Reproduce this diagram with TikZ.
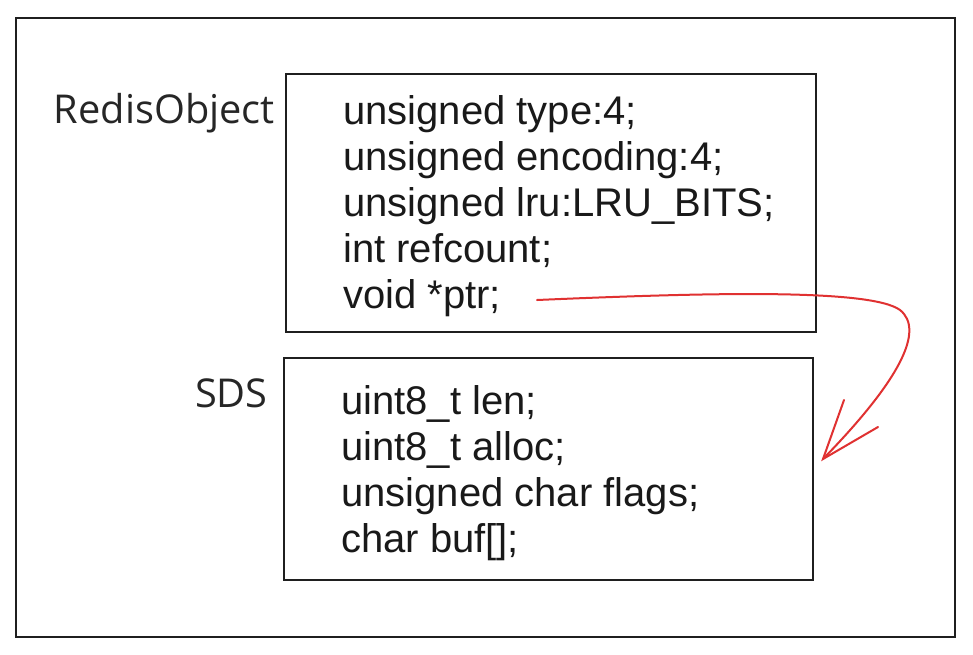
\documentclass[tikz,border=0pt]{standalone}
\usepackage{fontspec}
\setmainfont{Liberation Sans}
\newfontfamily\handfont{Open Sans}
\begin{document}
\begin{tikzpicture}[x=0.75pt,y=-0.75pt,
  frame/.style={draw=black!88,line width=1.5pt},
  boxst/.style={draw=black!88,line width=1.6pt,inner sep=0pt},
  code/.style={anchor=base west,inner sep=0pt,font=\fontsize{30}{34.5}\selectfont,text=black!90},
  lbl/.style={anchor=base east,inner sep=0pt,font=\handfont\fontsize{29.8}{34}\selectfont,text=black!85},
  ptr/.style={draw={rgb,255:red,224;green,49;blue,49},line width=1.5pt,line cap=round}]
\useasboundingbox (0,0) rectangle (973,654);
\fill[white] (0,0) rectangle (973,654);
% outer frame
\draw[frame] (16,18) rectangle (955,637);
% boxes
\draw[boxst] (286,74) rectangle (816,332);
\draw[boxst] (284,358) rectangle (813,580);
% labels
\node[lbl] (lobj) at (275,123) {RedisObject};
\node[lbl] (lsds) at (268,407) {SDS};
% object fields
\node[code] (o1) at (343,124) {unsigned type:4;};
\node[code] (o2) at (343,170) {unsigned encoding:4;};
\node[code] (o3) at (343,216) {unsigned lru:LRU\_BITS;};
\node[code] (o4) at (343,262) {int refcount;};
\node[code] (o5) at (343,308) {void *ptr;};
% sds fields
\node[code] (s1) at (341,414) {uint8\_t len;};
\node[code] (s2) at (341,460) {uint8\_t alloc;};
\node[code] (s3) at (341,506) {unsigned char flags;};
\node[code] (s4) at (341,552) {char buf[];};
% pointer arrow
\coordinate (pstart) at (537,300);
\coordinate (ptip) at (823,459);
\coordinate (barbA) at (844,400);
\coordinate (barbB) at (878,427);
\draw[ptr] (pstart) .. controls (700,293) and (870,288) .. (900,310)
  .. controls (925,330) and (900,380) .. (ptip);
\draw[ptr] (barbA) -- (ptip) -- (barbB);
\end{tikzpicture}
\end{document}
